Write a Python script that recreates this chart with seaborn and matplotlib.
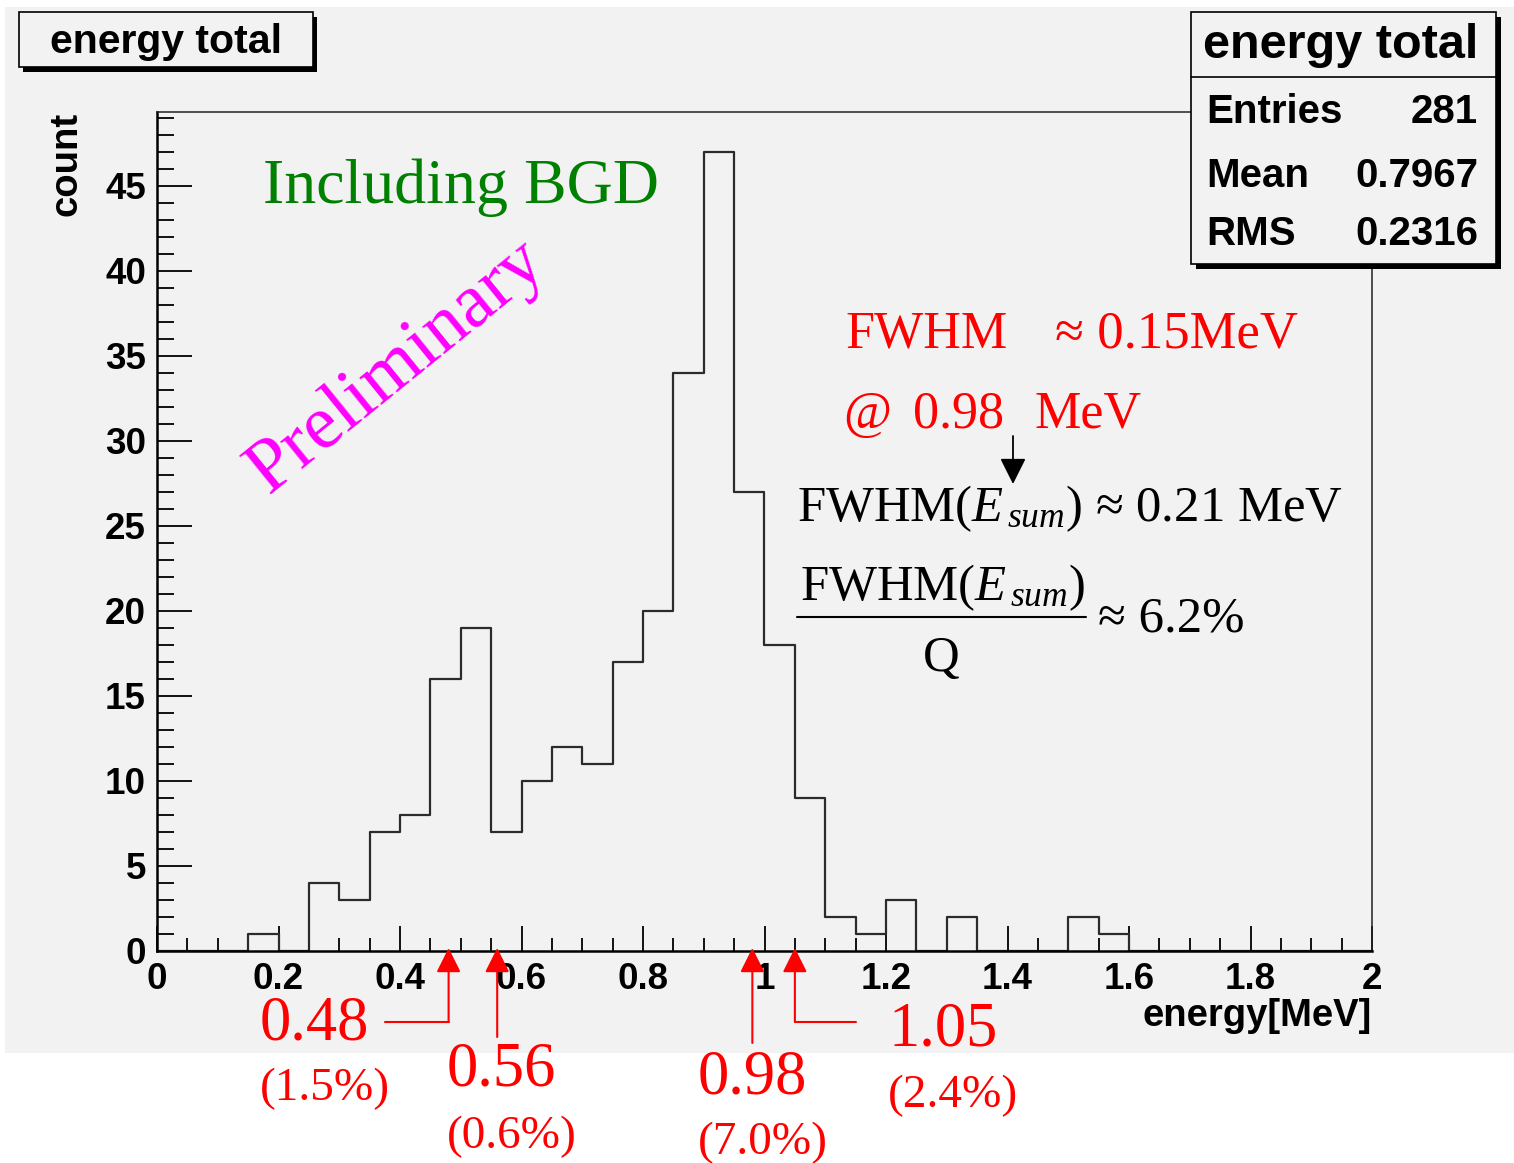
import numpy as np
import pandas as pd
import matplotlib
matplotlib.use("Agg")
import matplotlib.pyplot as plt
import seaborn as sns
from matplotlib.patches import Rectangle
from matplotlib.lines import Line2D
from matplotlib.ticker import MultipleLocator, FuncFormatter
from matplotlib.transforms import blended_transform_factory

# ---- data -------------------------------------------------------------
bin_width = 0.05
bin_range = (0.0, 2.0)                                          # 40 bins, 0..2 MeV
counts = [0, 0, 0, 1, 0, 4, 3, 7, 8, 16,
          19, 7, 10, 12, 11, 17, 20, 34, 47, 27,
          18, 9, 2, 1, 3, 0, 2, 0, 0, 0,
          2, 1, 0, 0, 0, 0, 0, 0, 0, 0]
stat_names = ["Entries", "Mean", "RMS"]
stat_values = ["281", "0.7967", "0.2316"]
line_energies = [0.48, 0.56, 0.98, 1.05]
line_labels = ["0.48", "0.56", "0.98", "1.05"]
line_fractions = ["(1.5%)", "(0.6%)", "(7.0%)", "(2.4%)"]

bin_centers = bin_range[0] + bin_width * (np.arange(len(counts)) + 0.5)
df = pd.DataFrame({"energy": bin_centers, "count": counts})

# ---- style ------------------------------------------------------------
sns.set_style("ticks")
plt.rcParams["font.family"] = ["Liberation Sans", "DejaVu Sans"]
plt.rcParams["font.weight"] = "bold"
plt.rcParams.update({
    "text.color": "black",
    "axes.labelcolor": "black",
    "xtick.color": "black",
    "ytick.color": "black",
    "mathtext.fontset": "custom",
    "mathtext.rm": "Liberation Serif:weight=normal",
    "mathtext.it": "Liberation Serif:style=italic:weight=normal",
})

W, H, DPI = 1514, 1163, 100
BG = "#f2f2f2"
SERIF = ["Liberation Serif", "DejaVu Serif"]

fig = plt.figure(figsize=(W / DPI, H / DPI), dpi=DPI, facecolor="white")


def fx(px):
    return px / W


def fy(py):
    return 1 - py / H


def box(x0, y0, x1, y1, **kw):
    r = Rectangle((fx(x0), fy(y1)), (x1 - x0) / W, (y1 - y0) / H,
                  transform=fig.transFigure, **kw)
    fig.add_artist(r)


def ftext(x, y, s, **kw):
    fig.text(fx(x), fy(y), s, **kw)


def serif(x, y, s, size, color, **kw):
    kw.setdefault("ha", "left")
    kw.setdefault("va", "baseline")
    ftext(x, y, s, family=SERIF, fontweight="normal", fontsize=size, color=color, **kw)


# canvas
box(5, 7, 1514, 1053, facecolor=BG, edgecolor="none", zorder=-1)

# ---- histogram frame --------------------------------------------------
ax = fig.add_axes([fx(157), fy(951), (1372 - 157) / W, (951 - 112) / H])
ax.set_facecolor("none")

sns.histplot(data=df, x="energy", weights="count", binwidth=bin_width,
             binrange=bin_range, element="step", fill=False,
             color="#2b2b2b", linewidth=1.6, ax=ax)

ax.set_xlim(0, 2)
ax.set_ylim(0, 1.05 * max(counts))
ax.xaxis.set_major_locator(MultipleLocator(0.2))
ax.xaxis.set_minor_locator(MultipleLocator(0.05))
ax.yaxis.set_major_locator(MultipleLocator(5))
ax.yaxis.set_minor_locator(MultipleLocator(1))
ax.xaxis.set_major_formatter(FuncFormatter(lambda v, p: f"{v:g}"))

ax.tick_params(axis="both", which="both", direction="in", top=False, right=False,
               color="black", labelcolor="black", width=1.3, labelsize=26.5)
ax.tick_params(axis="y", which="major", length=25, pad=8)
ax.tick_params(axis="y", which="minor", length=12)
ax.tick_params(axis="x", which="major", length=18, pad=8)
ax.tick_params(axis="x", which="minor", length=9.5)

for side in ("left", "bottom"):
    ax.spines[side].set_linewidth(1.8)
    ax.spines[side].set_color("black")
for side in ("top", "right"):
    ax.spines[side].set_linewidth(1.1)
    ax.spines[side].set_color("#222222")

ax.set_xlabel("energy[MeV]", fontsize=27.5, fontweight="bold", loc="right")
ax.xaxis.set_label_coords(1.0, -0.056)
ax.set_ylabel("count", fontsize=27.5, fontweight="bold", loc="top")
ax.yaxis.set_label_coords(-0.06, 1.0)

# ---- title box --------------------------------------------------------
box(23, 17, 317, 72, facecolor="black", edgecolor="none", zorder=4)
box(19, 12, 313, 67, facecolor=BG, edgecolor="black", linewidth=1.2, zorder=5)
ftext(166, 53, "energy total", fontsize=29.5, fontweight="bold",
      ha="center", va="baseline", zorder=6)

# ---- statistics box ---------------------------------------------------
box(1196, 17, 1501, 269, facecolor="black", edgecolor="none", zorder=4)
box(1191, 12, 1496, 264, facecolor=BG, edgecolor="black", linewidth=1.2, zorder=5)
fig.add_artist(Line2D([fx(1191), fx(1496)], [fy(77), fy(77)], color="black",
                      linewidth=1.2, transform=fig.transFigure, zorder=6))
ftext(1341, 58, "energy total", fontsize=35, fontweight="bold",
      ha="center", va="baseline", zorder=6)
for name, val, yb in zip(stat_names, stat_values, [123, 187, 245]):
    ftext(1206, yb, name, fontsize=29, fontweight="bold", ha="left", va="baseline", zorder=6)
    ftext(1478, yb, val, fontsize=29, fontweight="bold", ha="right", va="baseline", zorder=6)

# ---- annotations inside the frame -------------------------------------
serif(263, 203, "Including BGD", 46, "#008000")
serif(397, 367, "Preliminary", 55, "#ff00ff", ha="center", va="center",
      rotation=39, rotation_mode="anchor")

serif(845, 348, "FWHM", 37.5, "red")
serif(1055, 348, "≈ 0.15MeV", 38, "red")
serif(843, 428, "@", 37.5, "red")
serif(913, 428, "0.98", 37.5, "red")
serif(1035, 428, "MeV", 37.5, "red")

ax.annotate("", xy=(fx(1013), fy(484)), xytext=(fx(1013), fy(436)),
            xycoords="figure fraction", textcoords="figure fraction",
            arrowprops=dict(arrowstyle="-|>,head_length=0.4,head_width=0.2",
                            color="black", lw=1.3, mutation_scale=40,
                            shrinkA=0, shrinkB=0))

serif(797, 521, r"FWHM($E_{\,sum}$) ≈ 0.21 MeV", 36.5, "black")
serif(800, 600, r"FWHM($E_{\,sum}$)", 36.5, "black")
fig.add_artist(Line2D([fx(797), fx(1086)], [fy(617), fy(617)], color="black",
                      linewidth=1.5, transform=fig.transFigure))
serif(941, 671, "Q", 36.5, "black", ha="center")
serif(1098, 632, "≈ 6.2%", 36.5, "black")

# ---- gamma-line markers below the axis --------------------------------
blend = blended_transform_factory(ax.transData, fig.transFigure)
shaft_bottoms = [1022, 1037, 1043, 1022]
elbow_ends = [0.375, None, None, 1.15]
for e, yb, xe in zip(line_energies, shaft_bottoms, elbow_ends):
    ax.annotate("", xy=(e, fy(948)), xytext=(e, fy(yb)),
                xycoords=blend, textcoords=blend, annotation_clip=False,
                arrowprops=dict(arrowstyle="-|>,head_length=0.5,head_width=0.25",
                                color="red", lw=1.5, mutation_scale=30,
                                shrinkA=0, shrinkB=0))
    if xe is not None:
        ax.plot([e, xe], [fy(yb), fy(yb)], color="red", lw=1.5,
                transform=blend, clip_on=False)

label_pos = [(260, 1040, 1100), (447, 1086, 1148), (698, 1093, 1154), (888, 1045, 1107)]
for lab, frac, (xl, y1, y2) in zip(line_labels, line_fractions, label_pos):
    serif(xl, y1, lab, 45, "red")
    serif(xl, y2, frac, 34, "red")

fig.savefig("out.png", dpi=DPI, facecolor="white")
